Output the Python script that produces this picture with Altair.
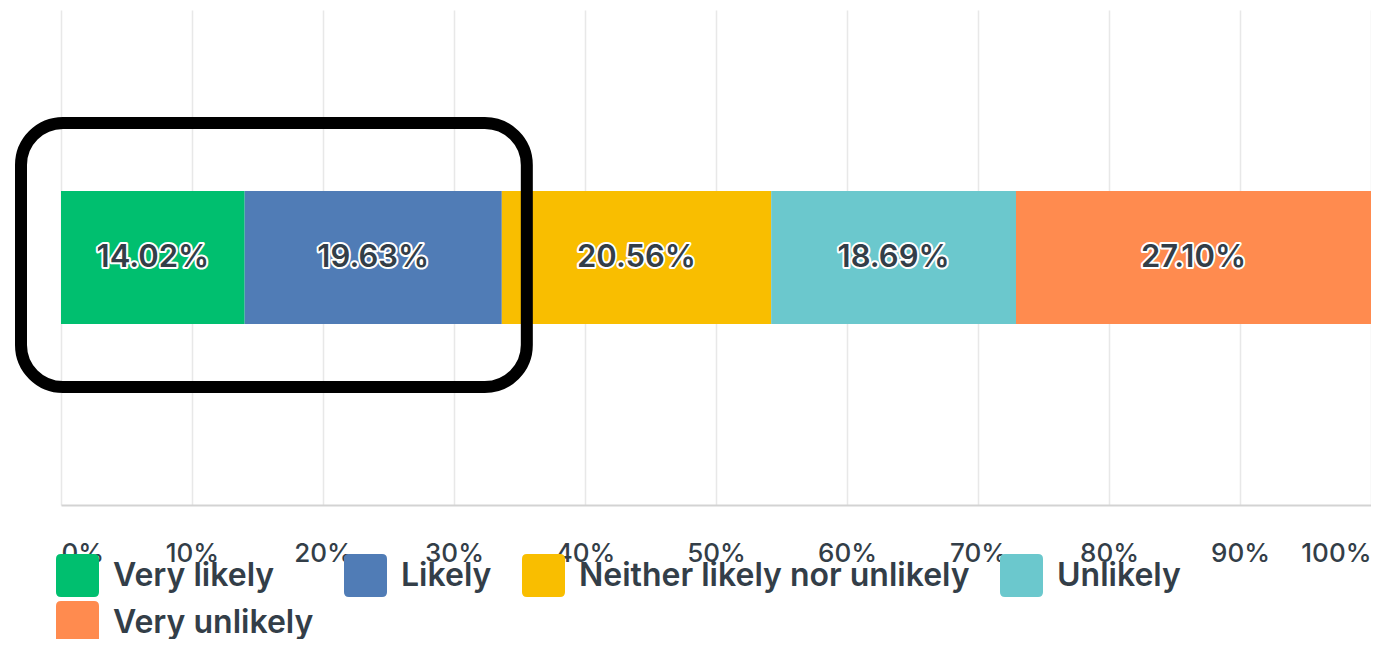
import altair as alt
import pandas as pd

# ---- data ----
categories = ["Very likely", "Likely", "Neither likely nor unlikely", "Unlikely", "Very unlikely"]
values = [14.02, 19.63, 20.56, 18.69, 27.10]
colors = ["#00bf6f", "#507cb6", "#f9be00", "#6bc8cd", "#ff8b4f"]
tick_values = [0, 10, 20, 30, 40, 50, 60, 70, 80, 90, 100]
highlight_n = 2  # first two answers are boxed

df = pd.DataFrame({
    "category": categories,
    "value": values,
    "idx": list(range(len(categories))),
    "row": ["Q1"] * len(categories),
})
hl = pd.DataFrame({"start": [0.0], "end": [sum(values[:highlight_n])]})

FONT = "Inter"
TEXT = "#333e48"
ROUNDED = ("M-0.77,-1 L0.77,-1 Q1,-1 1,-0.77 L1,0.77 Q1,1 0.77,1 "
           "L-0.77,1 Q-1,1 -1,0.77 L-1,-0.77 Q-1,-1 -0.77,-1 Z")

x_scale = alt.Scale(domain=[0, 100], nice=False, zero=True)
x_axis = alt.Axis(
    values=tick_values, labelExpr="datum.value + '%'", title=None,
    grid=True, gridColor="#e8e8e8", gridWidth=1.5,
    ticks=False, domain=True, domainColor="#d3d3d3", domainWidth=2,
    labelFont=FONT, labelFontSize=26, labelFontWeight=500,
    labelColor=TEXT, labelPadding=35, labelFlush=True,
)

base = alt.Chart(df).encode(y=alt.Y("row:N", axis=None, title=None))

bars = base.mark_bar(size=133).encode(
    x=alt.X("value:Q", stack="zero", scale=x_scale, axis=x_axis, title=None),
    color=alt.Color(
        "category:N",
        scale=alt.Scale(domain=categories, range=colors),
        legend=alt.Legend(
            title=None, orient="none", legendX=-5, legendY=544,
            direction="horizontal", columns=4,
            symbolType=ROUNDED, symbolSize=1849, symbolStrokeWidth=0,
            symbolOpacity=1,
            labelFont=FONT, labelFontSize=32, labelFontWeight=600,
            labelColor=TEXT, labelOffset=14, labelLimit=700,
            columnPadding=30, rowPadding=4,
        ),
    ),
    order=alt.Order("idx:Q", sort="ascending"),
)

lab_base = base.transform_window(
    cum="sum(value)", sort=[alt.SortField("idx")], frame=[None, 0]
).transform_calculate(
    mid="datum.cum - datum.value / 2",
    lbl="format(datum.value, '.2f') + '%'",
).encode(
    x=alt.X("mid:Q", scale=x_scale, axis=x_axis, title=None),
    text="lbl:N",
)

halo = lab_base.mark_text(
    font=FONT, fontSize=31, fontWeight=600, color=TEXT,
    stroke="white", strokeWidth=4, strokeJoin="round",
)
labels = lab_base.mark_text(font=FONT, fontSize=31, fontWeight=600, color=TEXT)

box = alt.Chart(hl).mark_rect(
    filled=False, stroke="black", strokeWidth=12, cornerRadius=42,
    xOffset=-40, x2Offset=25,
).encode(
    x=alt.X("start:Q", scale=x_scale, axis=x_axis, title=None),
    x2="end:Q",
    y=alt.value(113),
    y2=alt.value(377),
)

chart = alt.layer(bars, halo, labels, box).properties(
    width=1310, height=495,
    padding={"left": 53, "top": 2, "right": 0, "bottom": 134},
    autosize=alt.AutoSizeParams(type="none"),
).configure_view(stroke=None)

chart.save("out.html", embed_options={"renderer": "svg", "actions": False})
